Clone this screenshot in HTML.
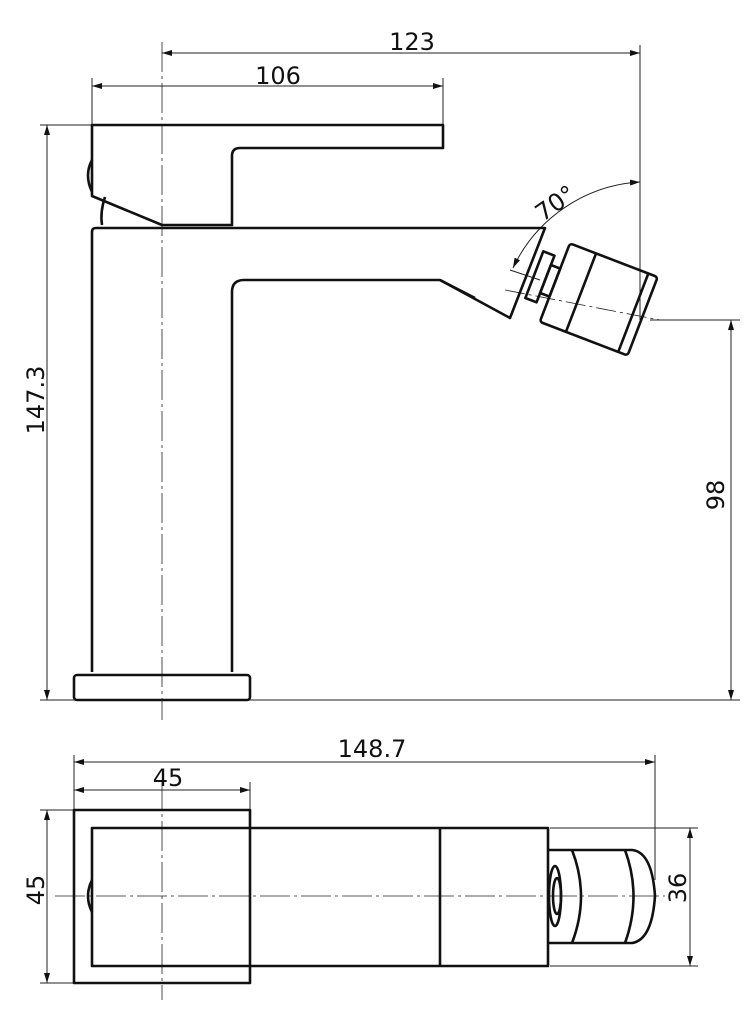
<!DOCTYPE html>
<html><head><style>body{margin:0;background:#fff}svg{display:block}text{font-family:"DejaVu Sans","Liberation Sans",sans-serif;fill:#111}</style></head><body>
<svg width="754" height="1024" viewBox="0 0 754 1024" xmlns="http://www.w3.org/2000/svg">
<defs><marker id="a" markerWidth="10" markerHeight="6" refX="10" refY="3" orient="auto-start-reverse" markerUnits="userSpaceOnUse"><path d="M0,0 L10,3 L0,6z" fill="#111"/></marker></defs>
<g stroke="#222" stroke-width="1" fill="none">
<!-- dimension lines top -->
<line x1="162" y1="53" x2="640" y2="53" marker-start="url(#a)" marker-end="url(#a)"/>
<line x1="640" y1="45" x2="640" y2="320"/>
<line x1="92" y1="86" x2="443" y2="86" marker-start="url(#a)" marker-end="url(#a)"/>
<line x1="92" y1="78" x2="92" y2="125"/><line x1="443" y1="78" x2="443" y2="125"/>
<line x1="47" y1="125" x2="47" y2="700" marker-start="url(#a)" marker-end="url(#a)"/>
<line x1="40" y1="125" x2="92" y2="125"/>
<line x1="731" y1="320" x2="731" y2="700" marker-start="url(#a)" marker-end="url(#a)"/>
<line x1="650" y1="320" x2="740" y2="320"/>
<line x1="40" y1="700" x2="740" y2="700"/>
<line x1="162" y1="42" x2="162" y2="720" stroke-dasharray="30,4,3,4" stroke-width="0.8"/>
<path d="M640,182 A150,150 0 0 0 513,268" marker-start="url(#a)" marker-end="url(#a)"/>
<line x1="510" y1="270" x2="540" y2="280"/>
<line x1="505" y1="290" x2="660" y2="320" stroke-dasharray="20,4,3,4" stroke-width="0.8"/>
<!-- bottom dims -->
<line x1="74" y1="762" x2="655" y2="762" marker-start="url(#a)" marker-end="url(#a)"/>
<line x1="74" y1="755" x2="74" y2="810"/><line x1="655" y1="755" x2="655" y2="880"/>
<line x1="74" y1="790" x2="250" y2="790" marker-start="url(#a)" marker-end="url(#a)"/>
<line x1="250" y1="782" x2="250" y2="810"/>
<line x1="47" y1="810" x2="47" y2="983" marker-start="url(#a)" marker-end="url(#a)"/>
<line x1="40" y1="810" x2="74" y2="810"/><line x1="40" y1="983" x2="74" y2="983"/>
<line x1="690" y1="828" x2="690" y2="966" marker-start="url(#a)" marker-end="url(#a)"/>
<line x1="550" y1="828" x2="698" y2="828"/><line x1="550" y1="966" x2="698" y2="966"/>
<line x1="55" y1="896" x2="665" y2="896" stroke-dasharray="30,4,3,4" stroke-width="0.8"/>
<line x1="162" y1="780" x2="162" y2="1000" stroke-dasharray="30,4,3,4" stroke-width="0.8"/>
</g>
<g stroke="#111" stroke-width="2.6" fill="none" stroke-linejoin="round">
<!-- handle -->
<path d="M92,125 L443,125 L443,148 L240,148 Q232,148 232,156 L232,225 L162,225 L92,196 Z"/>
<path d="M92,160 Q84,175 92,192"/>
<path d="M105,197 Q100,212 102,225"/>
<!-- body -->
<path d="M92,672 L92,232 Q92,228 96,228 L545,228 L510,318 L440,280 L244,280 Q232,280 232,292 L232,672"/>
<rect x="74" y="675" width="176" height="25" rx="3"/>
<path d="M440,280 L475,298"/>
<!-- aerator -->
<g transform="rotate(21 595 298)">
<rect x="530" y="273" width="12" height="50"/>
<rect x="542" y="283" width="10" height="30"/>
<rect x="552" y="256" width="94" height="84" rx="3"/>
<line x1="580" y1="256" x2="580" y2="340"/>
<line x1="636" y1="256" x2="636" y2="340"/>
</g>
<!-- bottom view -->
<rect x="74" y="810" width="176" height="173"/>
<rect x="92" y="828" width="456" height="138"/>
<line x1="440" y1="828" x2="440" y2="966"/>
<path d="M92,880 Q84,896 92,912"/>
<path d="M548,850 L632,850 Q652,852 655,896 Q652,940 632,943 L548,943"/>
<path d="M572,850 Q590,896 572,943"/>
<path d="M625,850 Q642,896 625,943"/>
<ellipse cx="555" cy="896" rx="6" ry="30"/>
<ellipse cx="557" cy="896" rx="4" ry="18"/>
</g>
<g font-size="24">
<text x="412" y="50" text-anchor="middle">123</text>
<text x="278" y="84" text-anchor="middle">106</text>
<text x="372" y="757" text-anchor="middle">148.7</text>
<text x="168" y="786" text-anchor="middle">45</text>
<text transform="translate(44,400) rotate(-90)" text-anchor="middle">147.3</text>
<text transform="translate(724,495) rotate(-90)" text-anchor="middle">98</text>
<text transform="translate(44,890) rotate(-90)" text-anchor="middle">45</text>
<text transform="translate(686,888) rotate(-90)" text-anchor="middle">36</text>
<text transform="translate(560,210) rotate(-35)" text-anchor="middle">70°</text>
</g>
</svg>
</body></html>
